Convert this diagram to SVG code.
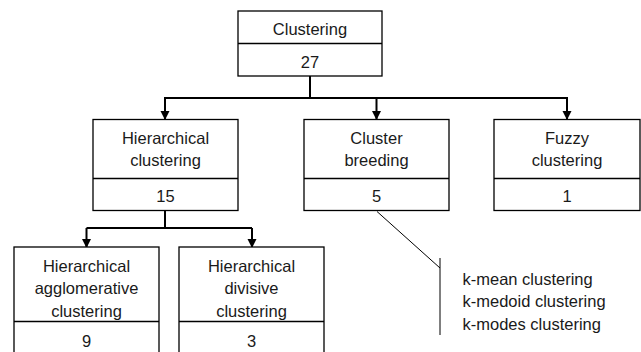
<svg xmlns="http://www.w3.org/2000/svg" width="641" height="352" viewBox="0 0 641 352">
<defs>
<style>
.box{fill:#fff;stroke:#000;stroke-width:1.3}
.t{font-family:"Liberation Sans",Arial,sans-serif;font-size:16.5px;fill:#1a1a1a;text-anchor:middle}
.tl{font-family:"Liberation Sans",Arial,sans-serif;font-size:16.5px;fill:#1a1a1a}
.c{fill:none;stroke:#000;stroke-width:2}
.thin{fill:none;stroke:#000;stroke-width:1}
</style>
<marker id="ah" markerWidth="10" markerHeight="10" refX="8" refY="4.5" orient="auto" markerUnits="userSpaceOnUse">
<path d="M0,0 L9,4.5 L0,9 Z" fill="#000"/>
</marker>
</defs>
<rect width="641" height="352" fill="#fff"/>
<g id="connectors">
<path class="c" d="M310,76 V98"/>
<path class="c" d="M164,98 H568"/>
<path class="c" d="M165,98 V119" marker-end="url(#ah)"/>
<path class="c" d="M376.5,98 V119" marker-end="url(#ah)"/>
<path class="c" d="M567,98 V119" marker-end="url(#ah)"/>
<path class="c" d="M165,211 V228"/>
<path class="c" d="M86.5,228 H252"/>
<path class="c" d="M86.5,228 V247" marker-end="url(#ah)"/>
<path class="c" d="M252,228 V247" marker-end="url(#ah)"/>
<path class="thin" d="M377,211.5 L440,268"/>
<path class="thin" d="M440,258 V335"/>
</g>
<g id="n-clustering">
<rect class="box" x="238" y="11" width="144" height="65"/>
<line class="box" x1="238" y1="43.5" x2="382" y2="43.5"/>
<text class="t" x="310" y="34.5">Clustering</text>
<text class="t" x="310" y="67.5">27</text>
</g>
<g id="n-hier">
<rect class="box" x="93" y="119.5" width="145" height="91"/>
<line class="box" x1="93" y1="178.5" x2="238" y2="178.5"/>
<text class="t" x="165.5" y="143.5">Hierarchical</text>
<text class="t" x="165.5" y="166">clustering</text>
<text class="t" x="165.5" y="201.5">15</text>
</g>
<g id="n-breeding">
<rect class="box" x="304" y="119.5" width="145" height="91"/>
<line class="box" x1="304" y1="178.5" x2="449" y2="178.5"/>
<text class="t" x="376.5" y="143.5">Cluster</text>
<text class="t" x="376.5" y="166">breeding</text>
<text class="t" x="376.5" y="201.5">5</text>
</g>
<g id="n-fuzzy">
<rect class="box" x="494" y="119.5" width="146" height="91"/>
<line class="box" x1="494" y1="178.5" x2="640" y2="178.5"/>
<text class="t" x="567" y="143.5">Fuzzy</text>
<text class="t" x="567" y="166">clustering</text>
<text class="t" x="567" y="201.5">1</text>
</g>
<g id="n-agglo">
<rect class="box" x="14" y="247" width="145" height="115"/>
<line class="box" x1="14" y1="321.5" x2="159" y2="321.5"/>
<text class="t" x="86.5" y="272">Hierarchical</text>
<text class="t" x="86.5" y="294">agglomerative</text>
<text class="t" x="86.5" y="316.5">clustering</text>
<text class="t" x="86.5" y="346.5">9</text>
</g>
<g id="n-divisive">
<rect class="box" x="179" y="247" width="145" height="115"/>
<line class="box" x1="179" y1="321.5" x2="324" y2="321.5"/>
<text class="t" x="251.5" y="272">Hierarchical</text>
<text class="t" x="251.5" y="294">divisive</text>
<text class="t" x="251.5" y="316.5">clustering</text>
<text class="t" x="251.5" y="346.5">3</text>
</g>
<g id="n-note">
<text class="tl" x="462.5" y="285">k-mean clustering</text>
<text class="tl" x="462.5" y="307">k-medoid clustering</text>
<text class="tl" x="462.5" y="329.5">k-modes clustering</text>
</g>
</svg>
